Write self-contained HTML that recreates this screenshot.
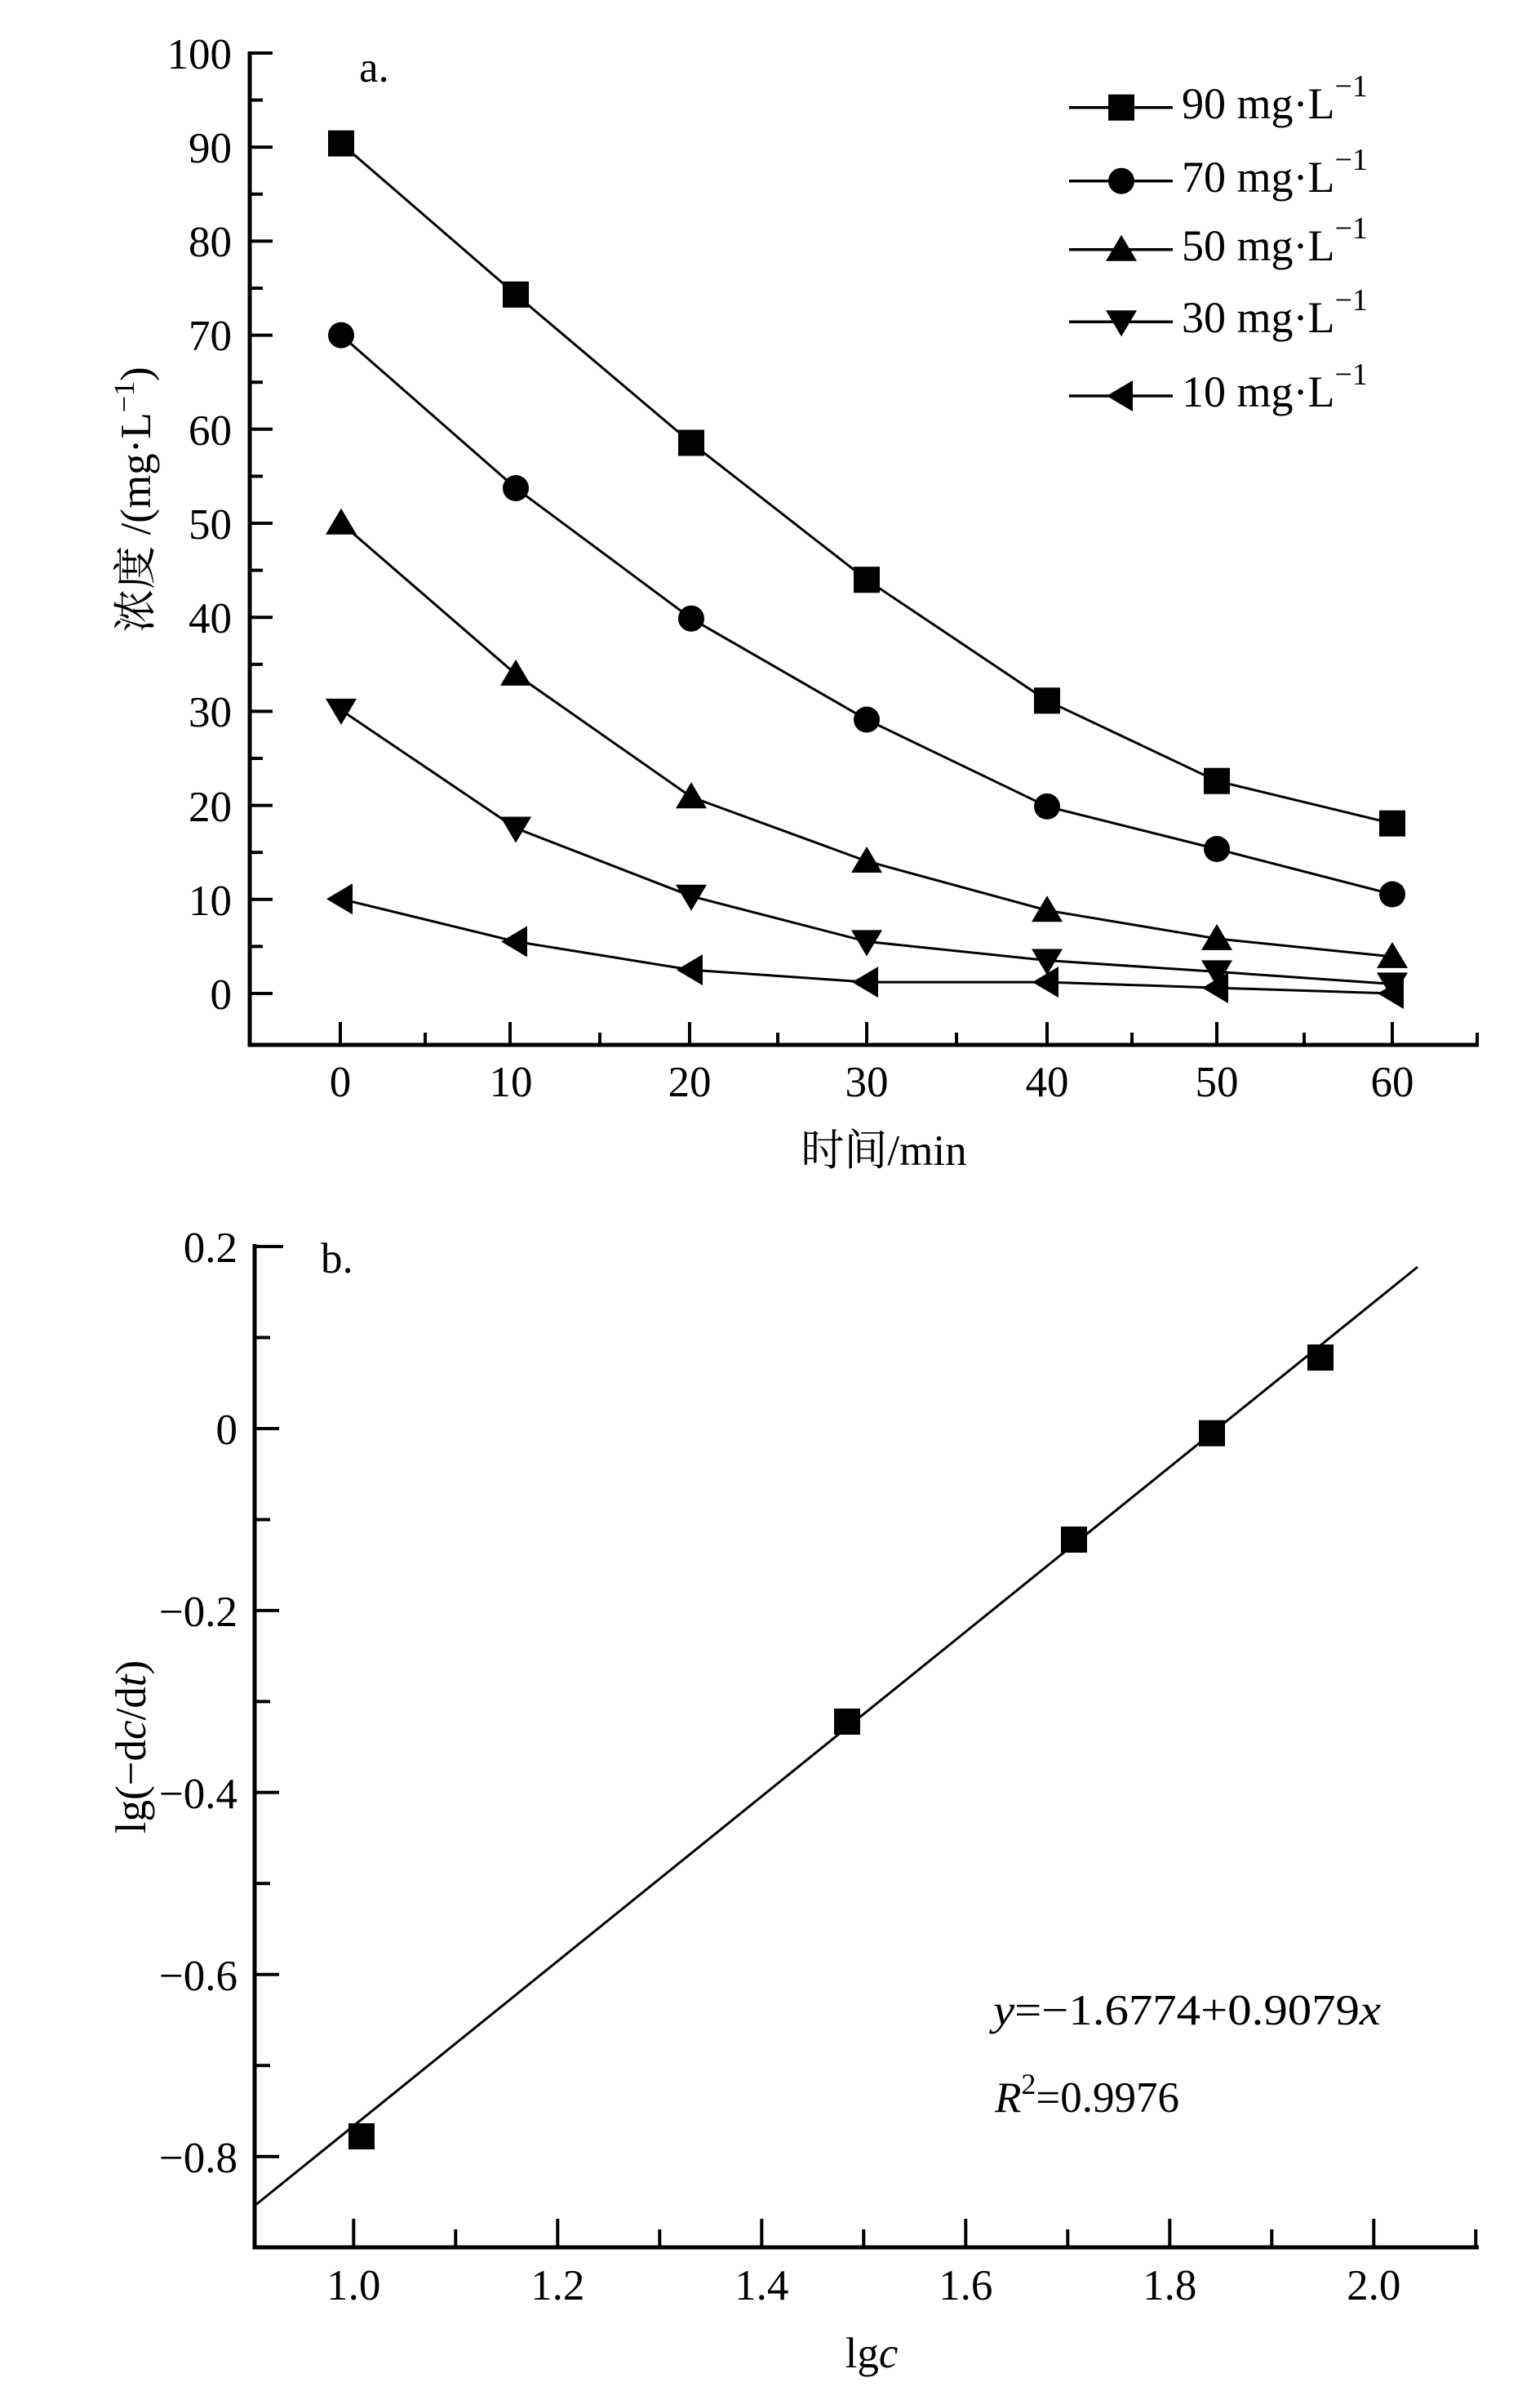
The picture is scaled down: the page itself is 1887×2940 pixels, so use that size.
<!DOCTYPE html>
<html><head><meta charset="utf-8"><style>
html,body{margin:0;padding:0;background:#fff;}
svg{display:block;}
text{font-family:"Liberation Serif","Noto Serif CJK SC","Noto Sans CJK SC",serif;fill:#000;}
</style></head><body>
<svg width="1887" height="2940" viewBox="0 0 1887 2940" xmlns="http://www.w3.org/2000/svg">
<defs>
<rect id="sq" x="-16" y="-16" width="32" height="32" fill="#000"/>
<circle id="ci" r="16" fill="#000"/>
<polygon id="tu" points="0,-18 19,14 -19,14" fill="#000"/>
<polygon id="td" points="0,18 19,-14 -19,-14" fill="#000"/>
<polygon id="tl" points="-18,0 14,-19 14,19" fill="#000"/>
</defs>

<!-- ===== Plot a ===== -->
<g stroke="#000" stroke-width="5" fill="none">
<polyline points="306,63 306,1280 1812,1280"/>
</g>
<g stroke="#000" stroke-width="4">
<line x1="306" y1="65" x2="334" y2="65"/><line x1="306" y1="180.2" x2="334" y2="180.2"/>
<line x1="306" y1="295.4" x2="334" y2="295.4"/><line x1="306" y1="410.6" x2="334" y2="410.6"/>
<line x1="306" y1="525.8" x2="334" y2="525.8"/><line x1="306" y1="641" x2="334" y2="641"/>
<line x1="306" y1="756.2" x2="334" y2="756.2"/><line x1="306" y1="871.4" x2="334" y2="871.4"/>
<line x1="306" y1="986.6" x2="334" y2="986.6"/><line x1="306" y1="1101.8" x2="334" y2="1101.8"/>
<line x1="306" y1="1217" x2="334" y2="1217"/>
<line x1="306" y1="122.6" x2="322" y2="122.6"/><line x1="306" y1="237.8" x2="322" y2="237.8"/>
<line x1="306" y1="353" x2="322" y2="353"/><line x1="306" y1="468.2" x2="322" y2="468.2"/>
<line x1="306" y1="583.4" x2="322" y2="583.4"/><line x1="306" y1="698.6" x2="322" y2="698.6"/>
<line x1="306" y1="813.8" x2="322" y2="813.8"/><line x1="306" y1="929" x2="322" y2="929"/>
<line x1="306" y1="1044.2" x2="322" y2="1044.2"/><line x1="306" y1="1159.4" x2="322" y2="1159.4"/>
<line x1="417" y1="1280" x2="417" y2="1252"/><line x1="625" y1="1280" x2="625" y2="1252"/>
<line x1="845" y1="1280" x2="845" y2="1252"/><line x1="1062" y1="1280" x2="1062" y2="1252"/>
<line x1="1283" y1="1280" x2="1283" y2="1252"/><line x1="1491" y1="1280" x2="1491" y2="1252"/>
<line x1="1706" y1="1280" x2="1706" y2="1252"/>
<line x1="521" y1="1280" x2="521" y2="1265"/><line x1="735" y1="1280" x2="735" y2="1265"/>
<line x1="953" y1="1280" x2="953" y2="1265"/><line x1="1172" y1="1280" x2="1172" y2="1265"/>
<line x1="1387" y1="1280" x2="1387" y2="1265"/><line x1="1598" y1="1280" x2="1598" y2="1265"/>
<line x1="1810" y1="1280" x2="1810" y2="1265"/>
</g>
<g font-size="53" text-anchor="end">
<text x="284" y="84">100</text><text x="284" y="199">90</text><text x="284" y="314">80</text>
<text x="284" y="429">70</text><text x="284" y="545">60</text><text x="284" y="660">50</text>
<text x="284" y="775">40</text><text x="284" y="890">30</text><text x="284" y="1006">20</text>
<text x="284" y="1121">10</text><text x="284" y="1236">0</text>
</g>
<g font-size="53" text-anchor="middle">
<text x="417" y="1343">0</text><text x="626" y="1343">10</text><text x="845" y="1343">20</text>
<text x="1062" y="1343">30</text><text x="1283" y="1343">40</text><text x="1491" y="1343">50</text>
<text x="1706" y="1343">60</text>
</g>
<text x="440" y="100" font-size="53">a.</text>
<text x="1083" y="1427" font-size="53" text-anchor="middle">时间/min</text>
<text transform="translate(184,612) rotate(-90)" font-size="53" text-anchor="middle">浓度 /(mg·L<tspan dy="-20" font-size="36">−1</tspan><tspan dy="20">)</tspan></text>

<g transform="translate(0,-5)">
<g stroke="#000" stroke-width="3" fill="none">
<polyline points="418,180.7 632,365.8 847,547.5 1062,715.2 1283,863.3 1491,961.7 1706,1013.7"/>
<polyline points="418,415.6 632,603 847,762.7 1062,886.5 1283,992.9 1491,1045 1706,1100.5"/>
<polyline points="418,645.8 632,830.9 847,981.3 1062,1060 1283,1120.2 1491,1154.9 1706,1176.9"/>
<polyline points="418,874.9 632,1019.5 847,1102.8 1062,1158.4 1283,1181.5 1491,1195.4 1706,1210.4"/>
<polyline points="418,1106.3 632,1158.4 847,1193.1 1062,1208.1 1283,1208.1 1491,1215.1 1706,1222"/>
</g>
<use href="#sq" x="418" y="180.7"/><use href="#sq" x="632" y="365.8"/><use href="#sq" x="847" y="547.5"/><use href="#sq" x="1062" y="715.2"/><use href="#sq" x="1283" y="863.3"/><use href="#sq" x="1491" y="961.7"/><use href="#sq" x="1706" y="1013.7"/>
<use href="#ci" x="418" y="415.6"/><use href="#ci" x="632" y="603"/><use href="#ci" x="847" y="762.7"/><use href="#ci" x="1062" y="886.5"/><use href="#ci" x="1283" y="992.9"/><use href="#ci" x="1491" y="1045"/><use href="#ci" x="1706" y="1100.5"/>
<use href="#tu" x="418" y="645.8"/><use href="#tu" x="632" y="830.9"/><use href="#tu" x="847" y="981.3"/><use href="#tu" x="1062" y="1060"/><use href="#tu" x="1283" y="1120.2"/><use href="#tu" x="1491" y="1154.9"/><use href="#tu" x="1706" y="1176.9"/>
<use href="#td" x="418" y="874.9"/><use href="#td" x="632" y="1019.5"/><use href="#td" x="847" y="1102.8"/><use href="#td" x="1062" y="1158.4"/><use href="#td" x="1283" y="1181.5"/><use href="#td" x="1491" y="1195.4"/><use href="#td" x="1706" y="1210.4"/>
<use href="#tl" x="418" y="1106.3"/><use href="#tl" x="632" y="1158.4"/><use href="#tl" x="847" y="1193.1"/><use href="#tl" x="1062" y="1208.1"/><use href="#tl" x="1283" y="1208.1"/><use href="#tl" x="1491" y="1215.1"/><use href="#tl" x="1706" y="1222"/>
</g>

<!-- legend -->
<g stroke="#000" stroke-width="3.5">
<line x1="1310" y1="131.7" x2="1437" y2="131.7"/><line x1="1310" y1="221.7" x2="1437" y2="221.7"/>
<line x1="1310" y1="305.7" x2="1437" y2="305.7"/><line x1="1310" y1="394.3" x2="1437" y2="394.3"/>
<line x1="1310" y1="485" x2="1437" y2="485"/>
</g>
<use href="#sq" x="1374" y="131.7"/><use href="#ci" x="1374" y="221.7"/><use href="#tu" x="1374" y="305.7"/><use href="#td" x="1374" y="394.3"/><use href="#tl" x="1374" y="485"/>
<g font-size="54">
<text x="1448" y="145">90 mg·L<tspan dy="-27" font-size="38">−1</tspan></text>
<text x="1448" y="235">70 mg·L<tspan dy="-27" font-size="38">−1</tspan></text>
<text x="1448" y="319">50 mg·L<tspan dy="-27" font-size="38">−1</tspan></text>
<text x="1448" y="407">30 mg·L<tspan dy="-27" font-size="38">−1</tspan></text>
<text x="1448" y="498">10 mg·L<tspan dy="-27" font-size="38">−1</tspan></text>
</g>

<!-- ===== Plot b ===== -->
<g stroke="#000" stroke-width="5" fill="none">
<polyline points="312,1524 312,2753 1812,2753"/>
</g>
<g stroke="#000" stroke-width="4">
<line x1="312" y1="1527" x2="347" y2="1527"/><line x1="312" y1="1750" x2="342" y2="1750"/>
<line x1="312" y1="1972.9" x2="342" y2="1972.9"/><line x1="312" y1="2195.8" x2="342" y2="2195.8"/>
<line x1="312" y1="2418.8" x2="342" y2="2418.8"/><line x1="312" y1="2641.7" x2="342" y2="2641.7"/>
<line x1="312" y1="1638.5" x2="331" y2="1638.5"/><line x1="312" y1="1861.5" x2="331" y2="1861.5"/>
<line x1="312" y1="2084.4" x2="331" y2="2084.4"/><line x1="312" y1="2307.3" x2="331" y2="2307.3"/>
<line x1="312" y1="2530.2" x2="331" y2="2530.2"/>
<line x1="433.3" y1="2753" x2="433.3" y2="2718"/><line x1="683.3" y1="2753" x2="683.3" y2="2718"/>
<line x1="933.3" y1="2753" x2="933.3" y2="2718"/><line x1="1183.3" y1="2753" x2="1183.3" y2="2718"/>
<line x1="1433.3" y1="2753" x2="1433.3" y2="2718"/><line x1="1683.3" y1="2753" x2="1683.3" y2="2718"/>
<line x1="558.3" y1="2753" x2="558.3" y2="2731"/><line x1="808.3" y1="2753" x2="808.3" y2="2731"/>
<line x1="1058.3" y1="2753" x2="1058.3" y2="2731"/><line x1="1308.3" y1="2753" x2="1308.3" y2="2731"/>
<line x1="1558.3" y1="2753" x2="1558.3" y2="2731"/><line x1="1808.3" y1="2753" x2="1808.3" y2="2731"/>
</g>
<g font-size="53" text-anchor="end">
<text x="291" y="1546">0.2</text><text x="291" y="1769">0</text><text x="291" y="1992">−0.2</text>
<text x="291" y="2215">−0.4</text><text x="291" y="2438">−0.6</text><text x="291" y="2661">−0.8</text>
</g>
<g font-size="53" text-anchor="middle">
<text x="433.3" y="2817">1.0</text><text x="683.3" y="2817">1.2</text><text x="933.3" y="2817">1.4</text>
<text x="1183.3" y="2817">1.6</text><text x="1433.3" y="2817">1.8</text><text x="1683.3" y="2817">2.0</text>
</g>
<text x="393" y="1559" font-size="53">b.</text>
<text x="1068" y="2900" font-size="53" text-anchor="middle">lg<tspan font-style="italic">c</tspan></text>
<text transform="translate(178,2140) rotate(-90)" font-size="53" text-anchor="middle">lg(−d<tspan font-style="italic">c</tspan>/d<tspan font-style="italic">t</tspan>)</text>
<line x1="312" y1="2702" x2="1737" y2="1552" stroke="#000" stroke-width="3"/>
<use href="#sq" x="443" y="2617"/><use href="#sq" x="1038" y="2109"/><use href="#sq" x="1316" y="1886"/><use href="#sq" x="1485" y="1755.7"/><use href="#sq" x="1618" y="1663"/>
<text x="1217" y="2480" font-size="53" textLength="475" lengthAdjust="spacingAndGlyphs"><tspan font-style="italic">y</tspan>=−1.6774+0.9079<tspan font-style="italic">x</tspan></text>
<text x="1219" y="2587" font-size="53"><tspan font-style="italic">R</tspan><tspan dy="-22" font-size="36">2</tspan><tspan dy="22">=0.9976</tspan></text>
</svg>
</body></html>
